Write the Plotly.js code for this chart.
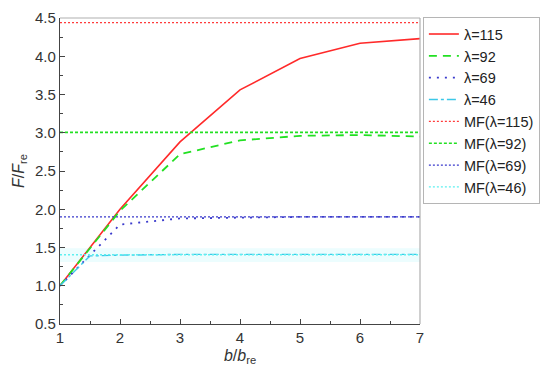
<!DOCTYPE html>
<html><head><meta charset="utf-8">
<script src="https://cdn.plot.ly/plotly-3.0.1.min.js"></script>
<style>html,body{margin:0;padding:0;background:#fff}#chart{width:550px;height:374px}</style>
</head><body><div id="chart"></div>
<script>
const bRatio = [1, 2, 3, 4, 5, 6, 7];
const lam115 = [1.0, 2.0, 2.88, 3.56, 3.97, 4.17, 4.23];
const lam92  = [1.0, 1.98, 2.72, 2.90, 2.96, 2.97, 2.95];
const lam69  = [1.0, 1.80, 1.88, 1.89, 1.90, 1.90, 1.90];
const bRatio46 = [1, 1.5, 2, 3, 4, 5, 7];
const lam46  = [1.0, 1.39, 1.40, 1.41, 1.41, 1.41, 1.41];
const mfX = [1, 7];
const mf115 = [4.44, 4.44];
const mf92  = [3.005, 3.005];
const mf69  = [1.90, 1.90];
const mf46  = [1.405, 1.405];
const bandLow = 1.31, bandHigh = 1.49;
const names = ['λ=115','λ=92','λ=69','λ=46','MF(λ=115)','MF(λ=92)','MF(λ=69)','MF(λ=46)'];

const traces = [
  {x: bRatio, y: lam115, name: names[0], mode: 'lines', line: {color: '#ff2a2a', width: 1.6, dash: 'solid'}},
  {x: bRatio, y: lam92, name: names[1], mode: 'lines', line: {color: '#22e022', width: 1.8, dash: '8px,6px'}},
  {x: bRatio, y: lam69, name: names[2], mode: 'lines', line: {color: '#3a3acc', width: 1.8, dash: '2px,6px'}},
  {x: bRatio46, y: lam46, name: names[3], mode: 'lines', line: {color: '#3cc8e8', width: 1.4, dash: 'dashdot'}},
  {x: mfX, y: mf115, name: names[4], mode: 'lines', line: {color: '#ff3b3b', width: 1.3, dash: '2px,2px'}},
  {x: mfX, y: mf92, name: names[5], mode: 'lines', line: {color: '#22e022', width: 1.6, dash: '3px,2px'}},
  {x: mfX, y: mf69, name: names[6], mode: 'lines', line: {color: '#3a3acc', width: 1.4, dash: '2px,2px'}},
  {x: mfX, y: mf46, name: names[7], mode: 'lines', line: {color: '#5ef0f0', width: 1.3, dash: '2px,2px'}}
];

const layout = {
  width: 550, height: 374,
  margin: {l: 60, r: 130, t: 18, b: 50, autoexpand: false},
  paper_bgcolor: '#fff', plot_bgcolor: '#fff',
  font: {family: 'Liberation Sans, Arial, sans-serif', size: 15, color: '#333'},
  showlegend: true,
  legend: {
    x: 1.008, y: 1.003, xanchor: 'left', yanchor: 'top',
    bgcolor: '#fff', bordercolor: '#b5b5b5', borderwidth: 1,
    font: {size: 14.5, color: '#222'}, tracegroupgap: 0, itemwidth: 30
  },
  xaxis: {
    range: [1, 7], dtick: 1, tick0: 1,
    showgrid: false, zeroline: false,
    showline: true, linecolor: '#444', linewidth: 1.2,
    ticks: 'inside', ticklen: 5, tickcolor: '#444',
    minor: {dtick: 0.5, ticks: 'inside', ticklen: 3, tickcolor: '#444'},
    tickfont: {size: 15, color: '#333'},
    title: {text: '<i>b</i>/<i>b</i><sub>re</sub>', font: {size: 16, color: '#333'}, standoff: 4}
  },
  yaxis: {
    range: [0.5, 4.5], dtick: 0.5, tick0: 0.5, tickformat: '.1f',
    showgrid: false, zeroline: false,
    showline: true, linecolor: '#444', linewidth: 1.2,
    ticks: 'inside', ticklen: 5, tickcolor: '#444',
    minor: {dtick: 0.25, ticks: 'inside', ticklen: 3, tickcolor: '#444'},
    tickfont: {size: 15, color: '#333'},
    title: {text: '<i>F</i>/<i>F</i><sub>re</sub>', font: {size: 16, color: '#333'}, standoff: 6}
  },
  shapes: [
    {type: 'rect', xref: 'paper', yref: 'y', x0: 0, x1: 1, y0: bandLow, y1: bandHigh,
     fillcolor: 'rgba(120,240,250,0.14)', line: {width: 0}, layer: 'below'},
    {type: 'line', xref: 'paper', yref: 'paper', x0: 0, x1: 1, y0: 1, y1: 1, line: {color: '#b0b0b0', width: 1.2}},
    {type: 'line', xref: 'paper', yref: 'paper', x0: 1, x1: 1, y0: 0, y1: 1, line: {color: '#b0b0b0', width: 1.2}}
  ]
};

Plotly.newPlot('chart', traces, layout, {displayModeBar: false, staticPlot: true});
</script>
</body></html>
